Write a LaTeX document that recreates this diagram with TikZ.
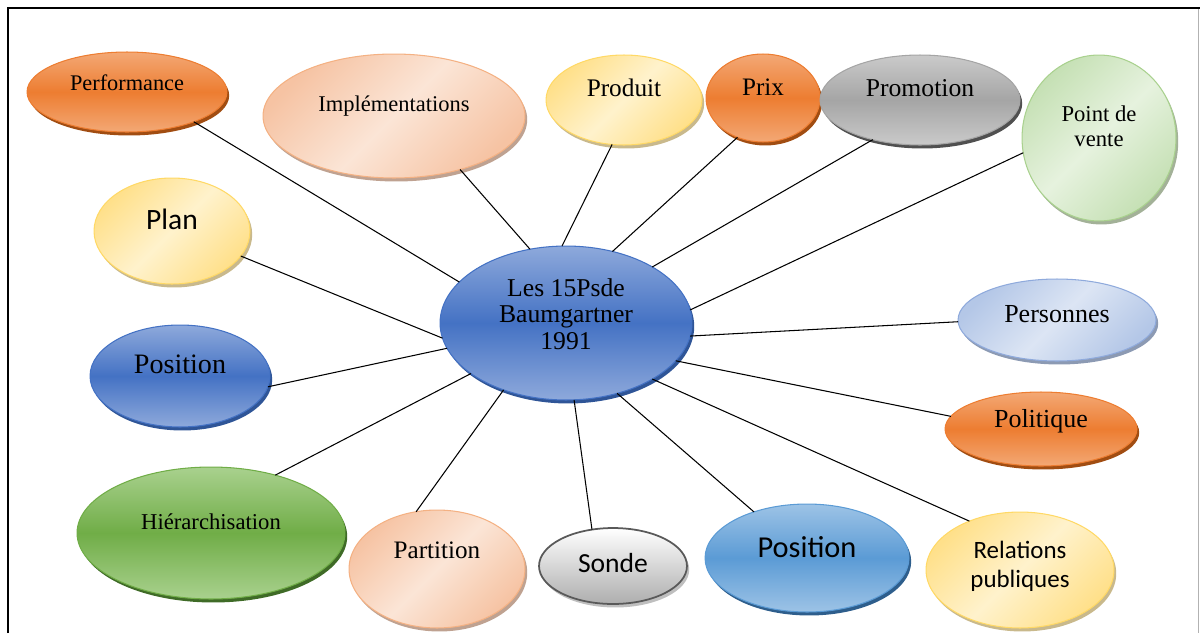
\documentclass[tikz,border=0pt]{standalone}
\usepackage{fontspec}
\setmainfont{Liberation Serif}
\newfontfamily\calib{Carlito}
\usetikzlibrary{shapes.geometric,shadows}

% accent palette
\definecolor{orMid}{HTML}{ED7D31}
\definecolor{orTop}{HTML}{F3A875}
\definecolor{orShd}{HTML}{A14D12}
\definecolor{blMid}{HTML}{4472C4}
\definecolor{blTop}{HTML}{8EA9DB}
\definecolor{blShd}{HTML}{2F5597}
\definecolor{bbMid}{HTML}{5B9BD5}
\definecolor{bbTop}{HTML}{9DC3E6}
\definecolor{bbShd}{HTML}{2E5E8C}
\definecolor{grMid}{HTML}{70AD47}
\definecolor{grTop}{HTML}{A9D18E}
\definecolor{grShd}{HTML}{3F6B27}
\definecolor{gyMid}{HTML}{A5A5A5}
\definecolor{gyTop}{HTML}{CACACA}
\definecolor{gyShd}{HTML}{505050}
\definecolor{pcS}{HTML}{F6C3A3}
\definecolor{pcL}{HTML}{FBE5D6}
\definecolor{pcB}{HTML}{F4B183}
\definecolor{pcShd}{HTML}{BFA291}
\definecolor{ylS}{HTML}{FFE08A}
\definecolor{ylL}{HTML}{FFF2CC}
\definecolor{ylB}{HTML}{FFD966}
\definecolor{ylShd}{HTML}{C9B98C}
\definecolor{gnS}{HTML}{C5E0B4}
\definecolor{gnL}{HTML}{E6F2DE}
\definecolor{gnB}{HTML}{A9D18E}
\definecolor{gnShd}{HTML}{A3B198}
\definecolor{lbS}{HTML}{B4C7E7}
\definecolor{lbL}{HTML}{DCE5F4}
\definecolor{lbB}{HTML}{8FAADC}
\definecolor{lbShd}{HTML}{8C9AB3}

\begin{document}
\begin{tikzpicture}[x=0.02cm,y=-0.02cm,
  bubble/.style={ellipse,inner sep=0pt,outer sep=0pt,line width=0.6pt},
  sz/.style 2 args={minimum width=#1*0.04cm,minimum height=#2*0.04cm},
  sh/.style={drop shadow={opacity=1,fill=#1,shadow xshift=0.045cm,shadow yshift=-0.07cm}},
  intense/.style n args={4}{bubble,top color=#1,bottom color=#1,middle color=#2,draw=#3,sh=#4},
  light/.style n args={4}{bubble,top color=#1,bottom color=#1,middle color=#2,shading angle=45,draw=#3,sh=#4},
  orangeE/.style={intense={orTop}{orMid}{orMid}{orShd}},
  blueE/.style={intense={blTop}{blMid}{blMid}{blShd}},
  skyE/.style={intense={bbTop}{bbMid}{bbMid}{bbShd}},
  greenE/.style={intense={grTop}{grMid}{grMid}{grShd}},
  grayE/.style={intense={gyTop}{gyMid}{gyMid}{gyShd}},
  peachE/.style={light={pcS}{pcL}{pcB}{pcShd}},
  yellowE/.style={light={ylS}{ylL}{ylB}{ylShd}},
  mintE/.style={light={gnS}{gnL}{gnB}{gnShd}},
  paleE/.style={light={lbS}{lbL}{lbB}{lbShd}},
  silverE/.style={bubble,top color=white,bottom color=black!32,draw=black!65,line width=1pt,sh=black!25},
  tx/.style={text height=0pt,text depth=0pt,inner sep=0pt},
  bl/.style={yshift=#1*0.02cm},
  rm/.style={font=\fontsize{#1}{#1}\selectfont},
  sf/.style={font=\calib\fontsize{#1}{#1}\selectfont},
  link/.style={draw=black,line width=0.6pt}]
\useasboundingbox (0,0) rectangle (1200,633);

% page frame
\draw[line width=1.2pt] (8,633) -- (8,8) -- (1200,8);
\draw[black!30,line width=0.5pt] (1198,9) -- (1198,633);

% outer ring
\node[orangeE,sz={100}{40},label={[tx,rm=12.7,bl=2]center:Performance}] (perf) at (127,92) {};
\node[peachE,sz={131}{62},label={[tx,rm=12.8,bl=5]center:Implémentations}] (impl) at (394,116) {};
\node[yellowE,sz={78}{45},label={[tx,rm=14.4,bl=4]center:Produit}] (prod) at (624,100) {};
\node[orangeE,sz={57}{44},label={[tx,rm=14.3,bl=3]center:Prix}] (prix) at (763,98) {};
\node[grayE,sz={100}{45},label={[tx,rm=14.6,bl=4]center:Promotion}] (promo) at (920,100) {};
\node[mintE,sz={77}{83},label={[tx,rm=12.9,bl=17]center:Point de},
  label={[tx,rm=12.9,bl=-8]center:vente}] (pdv) at (1099,138) {};
\node[yellowE,sz={78}{53},label={[tx,sf=16.8,bl=2]center:Plan}] (plan) at (172,231) {};
\node[blueE,sz={90}{51},label={[tx,rm=16,bl=3]center:Position}] (posl) at (180,376) {};
\node[greenE,sz={134}{66},label={[tx,rm=12.9,bl=4]center:Hiérarchisation}] (hier) at (211,533) {};
\node[peachE,sz={88}{59},label={[tx,rm=14.3,bl=11]center:Partition}] (part) at (437,569) {};
\node[silverE,sz={74}{38},label={[tx,sf=15.7,bl=-6]center:Sonde}] (sonde) at (613,566) {};
\node[skyE,sz={102}{54},label={[tx,sf=17.3,bl=1]center:Position}] (posb) at (807,558) {};
\node[yellowE,sz={94}{58},label={[tx,sf=14.2,bl=12]center:Relations},
  label={[tx,sf=14.2,bl=-17]center:publiques}] (rel) at (1020,570) {};
\node[orangeE,sz={96}{37},label={[tx,rm=14.8,bl=2]center:Politique}] (poli) at (1041,429) {};
\node[paleE,sz={99}{41},label={[tx,rm=14.8,bl=-2]center:Personnes}] (pers) at (1057,320) {};

% hub
\node[blueE,sz={126}{77},label={[tx,rm=14.6,bl=27]center:Les 15Psde},
  label={[tx,rm=14.6,bl=1]center:Baumgartner},
  label={[tx,rm=14.6,bl=-26]center:1991}] (ctr) at (566,323) {};

% spokes
\path[link] (perf.-24) -- (ctr.159);
\path[link] (impl.-39) -- (ctr.116);
\path[link] (prod.-105) -- (ctr.93);
\path[link] (prix.-123) -- (ctr.57);
\path[link] (promo.-140) -- (ctr.33);
\path[link] (pdv.-169) -- (ctr.6);
\path[link] (plan.-20) -- (ctr.-173);
\path[link] (posl.-7) -- (ctr.-168);
\path[link] (hier.42) -- (ctr.-152);
\path[link] (part.110) -- (ctr.-133);
\path[link] (sonde.120) -- (ctr.-84);
\path[link] (posb.139) -- (ctr.-54);
\path[link] (rel.136) -- (ctr.-33);
\path[link] (poli.172) -- (ctr.-19);
\path[link] (pers.-179) -- (ctr.-6);
\end{tikzpicture}
\end{document}
